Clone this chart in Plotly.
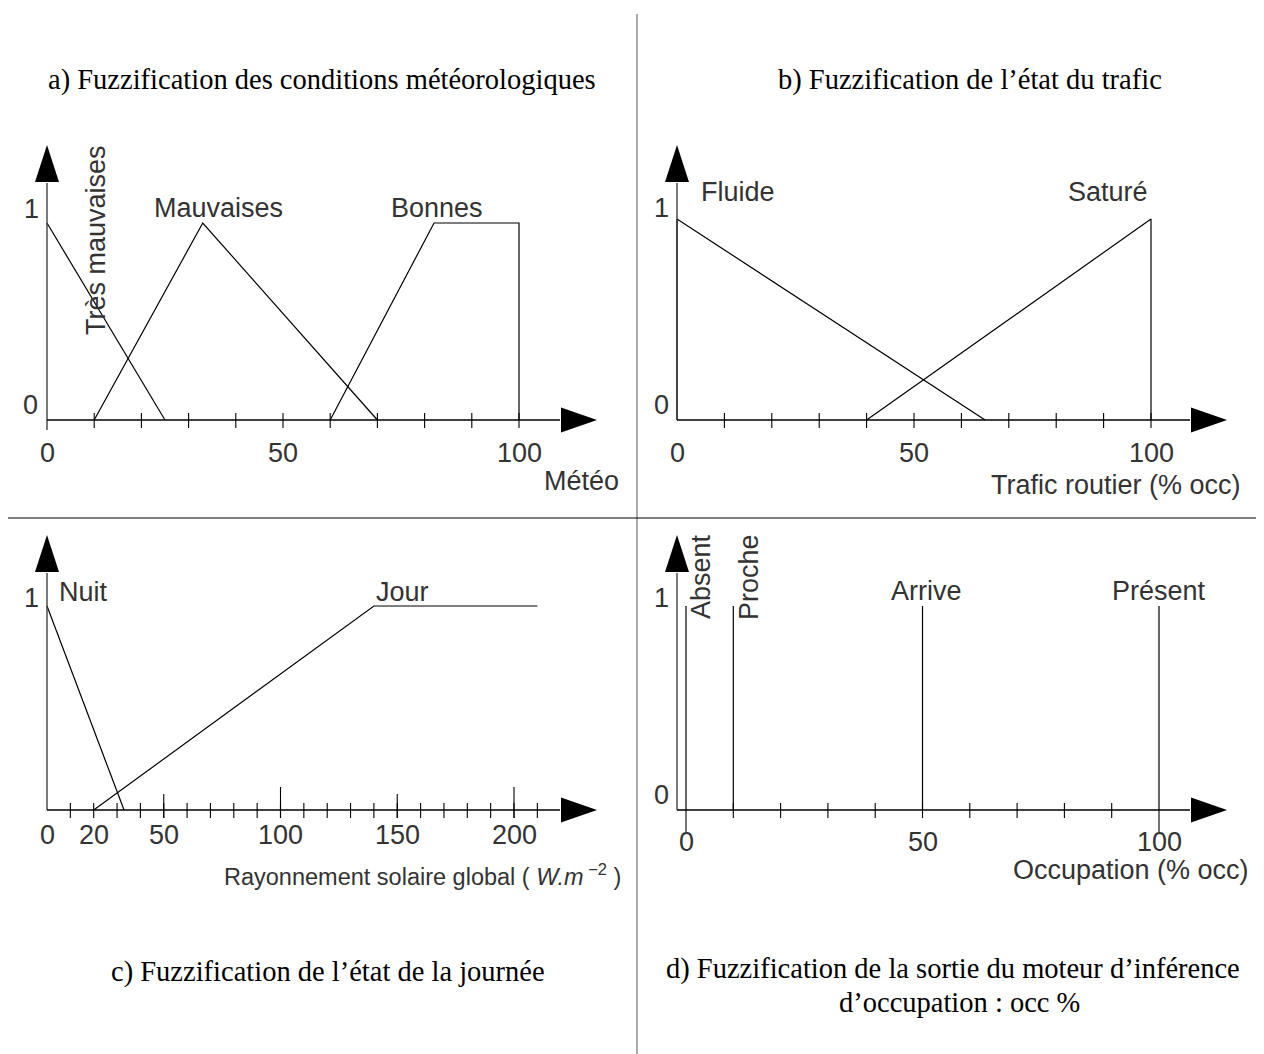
import plotly.graph_objects as go

W, H = 1264, 1054
OFF = 8  # page margin around the figure in the screenshot

# a) météo membership functions
tres_mauvaises_x = [0, 25]
tres_mauvaises_y = [1, 0]
mauvaises_x = [10, 33, 70]
mauvaises_y = [0, 1, 0]
bonnes_x = [60, 82, 100, 100]
bonnes_y = [0, 1, 1, 0]

# b) trafic
fluide_x = [0, 0, 65]
fluide_y = [0, 1, 0]
sature_x = [40, 100, 100]
sature_y = [0, 1, 0]

# c) journée
nuit_x = [0, 33]
nuit_y = [1, 0]
jour_x = [20, 140, 210]
jour_y = [0, 1, 1]

# d) occupation singletons
occ_names = ['Absent', 'Proche', 'Arrive', 'Présent']
occ_values = [0, 10, 50, 100]

# tick marks / tick labels
meteo_ticks = [10, 20, 30, 40, 50, 60, 70, 80, 90, 100]
meteo_labels = [0, 50, 100]
trafic_ticks = [10, 20, 30, 40, 50, 60, 70, 80, 90, 100]
trafic_labels = [0, 50, 100]
rayon_ticks = [10, 20, 30, 40, 50, 60, 70, 80, 90, 100, 110, 120, 130, 140, 150,
               160, 170, 180, 190, 200, 210]
rayon_mid = [50, 150]
rayon_big = [100, 200]
rayon_labels = [0, 20, 50, 100, 150, 200]
occ_ticks = [10, 20, 30, 40, 50, 60, 70, 80, 90]
occ_long = [0, 100]
occ_labels = [0, 50, 100]

LABEL_FONT = dict(family='Liberation Sans', size=27, color='#333333')
TITLE_FONT = dict(family='Liberation Serif', size=28.5, color='#000000')

# pixel layout of each panel: box = (left, right, top, bottom), origin + scale
PANELS = {
    'a': dict(ax='x', ay='y', box=(8, 636, 118, 512), ox=47, kx=4.72, oy=420, ky=197,
              xtip=597, xbase=561, ytip=145, ybase=182, xstart=47, ybottom=430),
    'b': dict(ax='x2', ay='y2', box=(638, 1264, 118, 512), ox=677, kx=4.74, oy=420, ky=201,
              xtip=1227, xbase=1191, ytip=145, ybase=182, xstart=677, ybottom=420),
    'c': dict(ax='x3', ay='y3', box=(8, 636, 524, 905), ox=47, kx=2.335, oy=810, ky=204,
              xtip=597, xbase=561, ytip=535, ybase=572, xstart=47, ybottom=810),
    'd': dict(ax='x4', ay='y4', box=(638, 1264, 524, 905), ox=686, kx=4.73, oy=810, ky=204,
              xtip=1227, xbase=1191, ytip=535, ybase=572, xstart=677, ybottom=810),
}


def X(p, px):
    return (px - p['ox']) / p['kx']


def Y(p, py):
    return (p['oy'] - py) / p['ky']


def paper_x(px):
    return (px - OFF) / W


def paper_y(py):
    return 1 - (py - OFF) / H


fig = go.Figure()
shapes = []
annotations = []


def seg(p, x0, y0, x1, y1, width=1.2, color='black'):
    shapes.append(dict(type='line', xref=p['ax'], yref=p['ay'], x0=x0, y0=y0, x1=x1, y1=y1,
                       line=dict(color=color, width=width)))


def text(p, px, py, t, angle=0, anchor='center', font=LABEL_FONT):
    annotations.append(dict(xref=p['ax'], yref=p['ay'], x=X(p, px), y=Y(p, py), text=t,
                            showarrow=False, textangle=angle, xanchor=anchor, yanchor='middle',
                            font=font))


def curve(p, xs, ys):
    fig.add_trace(go.Scatter(x=xs, y=ys, mode='lines', line=dict(color='black', width=1.2),
                             xaxis=p['ax'], yaxis=p['ay'], showlegend=False, hoverinfo='skip'))


def frame(p):
    # axes with arrow heads
    y_axis_x = X(p, p['xstart'])
    seg(p, y_axis_x, Y(p, p['ybottom']), y_axis_x, Y(p, p['ybase'] + 1), width=1.3, color='#333')
    seg(p, y_axis_x, 0, X(p, p['xbase'] - 1), 0, width=1.6)
    shapes.append(dict(type='path', xref=p['ax'], yref=p['ay'], fillcolor='black',
                       line=dict(width=0),
                       path=f"M {X(p, p['xbase'])},{Y(p, p['oy'] - 12.5)} L {X(p, p['xtip'])},0 "
                            f"L {X(p, p['xbase'])},{Y(p, p['oy'] + 12.5)} Z"))
    xm = p['xstart']
    shapes.append(dict(type='path', xref=p['ax'], yref=p['ay'], fillcolor='black',
                       line=dict(width=0),
                       path=f"M {X(p, xm - 12)},{Y(p, p['ybase'])} L {y_axis_x},{Y(p, p['ytip'])} "
                            f"L {X(p, xm + 12)},{Y(p, p['ybase'])} Z"))


def ticks(p, values, up=7, down=8):
    for v in values:
        seg(p, v, Y(p, p['oy'] - up), v, Y(p, p['oy'] + down), width=1.1)


def tick_labels(p, values, py):
    for v in values:
        annotations.append(dict(xref=p['ax'], yref=p['ay'], x=v, y=Y(p, py), text=str(v),
                                showarrow=False, xanchor='center', yanchor='middle',
                                font=LABEL_FONT))


# --- panel a
pa = PANELS['a']
frame(pa)
ticks(pa, meteo_ticks)
curve(pa, tres_mauvaises_x, tres_mauvaises_y)
curve(pa, mauvaises_x, mauvaises_y)
curve(pa, bonnes_x, bonnes_y)
tick_labels(pa, meteo_labels, 453)
text(pa, 31, 209, '1')
text(pa, 30, 405, '0')
text(pa, 96, 240, 'Très mauvaises', angle=-90)
text(pa, 218, 208, 'Mauvaises')
text(pa, 437, 208, 'Bonnes')
text(pa, 621, 481, 'Météo', anchor='right')

# --- panel b
pb = PANELS['b']
frame(pb)
ticks(pb, trafic_ticks)
curve(pb, fluide_x, fluide_y)
curve(pb, sature_x, sature_y)
tick_labels(pb, trafic_labels, 453)
text(pb, 661, 208, '1')
text(pb, 661, 405, '0')
text(pb, 738, 192, 'Fluide')
text(pb, 1108, 192, 'Saturé')
text(pb, 1243, 485, 'Trafic routier (% occ)', anchor='right')

# --- panel c
pc = PANELS['c']
frame(pc)
ticks(pc, rayon_ticks)
ticks(pc, rayon_mid, up=16)
ticks(pc, rayon_big, up=23)
curve(pc, nuit_x, nuit_y)
curve(pc, jour_x, jour_y)
tick_labels(pc, rayon_labels, 835)
text(pc, 31, 598, '1')
text(pc, 83, 592, 'Nuit')
text(pc, 402, 592, 'Jour')
text(pc, 623, 875, 'Rayonnement solaire global ( <i>W.m</i><sup> −2</sup> )', anchor='right',
     font=dict(family='Liberation Sans', size=23.5, color='#333333'))

# --- panel d
pd_ = PANELS['d']
frame(pd_)
ticks(pd_, occ_ticks)
ticks(pd_, occ_long, up=0, down=22)
for v in occ_values:
    curve(pd_, [v, v], [0, 1])
tick_labels(pd_, occ_labels, 842)
text(pd_, 661, 598, '1')
text(pd_, 661, 795, '0')
text(pd_, 701, 577, occ_names[0], angle=-90)
text(pd_, 749, 577, occ_names[1], angle=-90)
text(pd_, 926, 591, occ_names[2])
text(pd_, 1159, 591, occ_names[3])
text(pd_, 1251, 870, 'Occupation (% occ)', anchor='right')

# titles
for tx, ty, t in [(322, 80, 'a) Fuzzification des conditions météorologiques'),
                  (970, 80, 'b) Fuzzification de l’état du trafic'),
                  (328, 972, 'c) Fuzzification de l’état de la journée'),
                  (953, 969, 'd) Fuzzification de la sortie du moteur d’inférence'),
                  (959, 1002, 'd’occupation : occ %')]:
    annotations.append(dict(xref='paper', yref='paper', x=paper_x(tx), y=paper_y(ty), text=t,
                            showarrow=False, xanchor='center', yanchor='middle', font=TITLE_FONT))

# separators
shapes.append(dict(type='line', xref='paper', yref='paper', x0=paper_x(637), x1=paper_x(637),
                   y0=0, y1=paper_y(14), line=dict(color='#555555', width=1)))
shapes.append(dict(type='line', xref='paper', yref='paper', x0=0, x1=1, y0=paper_y(518),
                   y1=paper_y(518), line=dict(color='black', width=1)))

layout = dict(width=W, height=H, margin=dict(l=0, r=0, t=0, b=0),
              plot_bgcolor='white', paper_bgcolor='white',
              shapes=shapes, annotations=annotations)
for i, key in enumerate(['a', 'b', 'c', 'd']):
    p = PANELS[key]
    L, R, T, B = p['box']
    sfx = '' if i == 0 else str(i + 1)
    layout['xaxis' + sfx] = dict(domain=[paper_x(L), min(paper_x(R), 1)],
                                 range=[X(p, L), X(p, min(R, W + OFF))], visible=False,
                                 anchor='y' + sfx, fixedrange=True)
    layout['yaxis' + sfx] = dict(domain=[paper_y(B), paper_y(T)], range=[Y(p, B), Y(p, T)],
                                 visible=False, anchor='x' + sfx, fixedrange=True)
fig.update_layout(**layout)

fig.write_html("out.html")
